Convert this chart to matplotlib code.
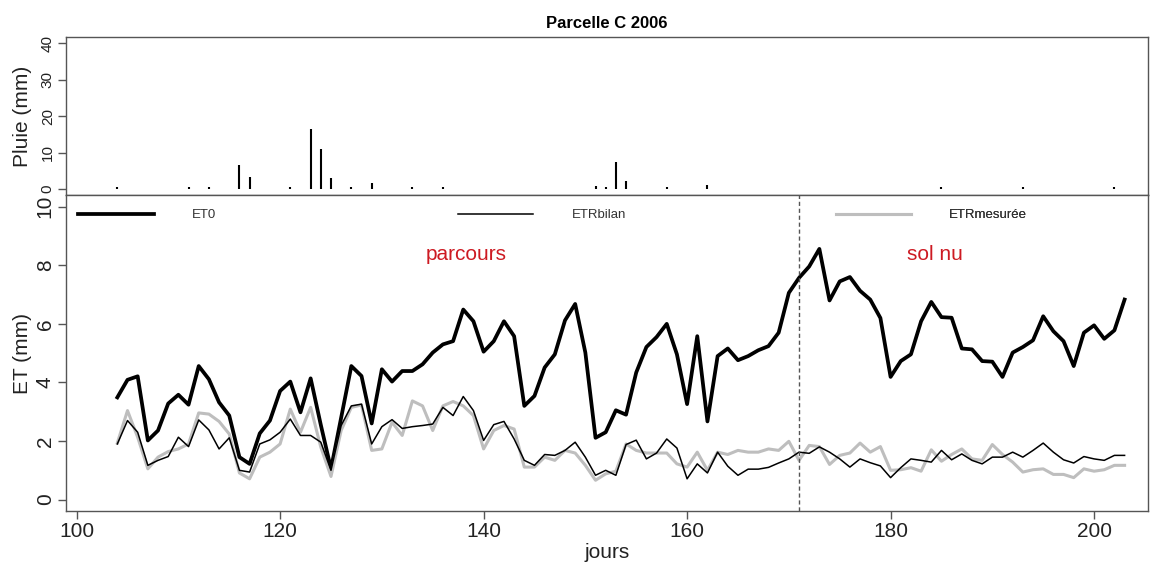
#%% Packages
import numpy as np
import matplotlib.pyplot as plt

#%% Data
jours = np.arange(104, 204)

et0 = [3.49, 4.09, 4.21, 2.02, 2.36, 3.28, 3.58, 3.24, 4.56, 4.11,
       3.32, 2.87, 1.45, 1.22, 2.26, 2.70, 3.71, 4.03, 2.98, 4.14,
       2.55, 1.05, 2.80, 4.56, 4.22, 2.60, 4.45, 4.03, 4.39, 4.39,
       4.62, 5.02, 5.30, 5.41, 6.49, 6.09, 5.05, 5.41, 6.09, 5.58,
       3.20, 3.54, 4.51, 4.96, 6.12, 6.68, 5.02, 2.11, 2.30, 3.05,
       2.90, 4.34, 5.21, 5.55, 6.00, 4.96, 3.26, 5.58, 2.67, 4.90,
       5.16, 4.76, 4.90, 5.10, 5.24, 5.70, 7.06, 7.57, 7.96, 8.56,
       6.80, 7.45, 7.60, 7.13, 6.83, 6.20, 4.19, 4.73, 4.96, 6.09,
       6.75, 6.23, 6.21, 5.16, 5.13, 4.73, 4.71, 4.19, 5.02, 5.21,
       5.44, 6.26, 5.75, 5.41, 4.56, 5.70, 5.95, 5.49, 5.78, 6.83]

etr_bilan = [1.90, 2.70, 2.30, 1.17, 1.34, 1.47, 2.13, 1.81, 2.72, 2.38,
             1.73, 2.11, 1.00, 0.94, 1.90, 2.04, 2.30, 2.75, 2.19, 2.19,
             1.96, 1.00, 2.53, 3.20, 3.26, 1.90, 2.49, 2.73, 2.43, 2.49,
             2.53, 2.58, 3.15, 2.87, 3.52, 3.04, 2.02, 2.56, 2.67, 2.07,
             1.34, 1.17, 1.54, 1.51, 1.68, 1.96, 1.45, 0.83, 1.00, 0.83,
             1.88, 2.03, 1.39, 1.59, 2.07, 1.76, 0.71, 1.22, 0.91, 1.62,
             1.14, 0.83, 1.04, 1.04, 1.10, 1.25, 1.39, 1.62, 1.58, 1.80,
             1.62, 1.39, 1.11, 1.39, 1.26, 1.15, 0.75, 1.09, 1.39, 1.34,
             1.28, 1.68, 1.36, 1.56, 1.34, 1.22, 1.45, 1.45, 1.62, 1.45,
             1.68, 1.93, 1.62, 1.36, 1.25, 1.47, 1.39, 1.34, 1.51, 1.51]

etr_mesuree = [1.93, 3.04, 2.13, 1.05, 1.45, 1.64, 1.73, 1.90, 2.96, 2.92,
               2.67, 2.24, 0.91, 0.71, 1.45, 1.62, 1.90, 3.09, 2.30, 3.15,
               1.79, 0.79, 2.36, 3.15, 3.23, 1.68, 1.73, 2.64, 2.19, 3.37,
               3.20, 2.36, 3.20, 3.35, 3.20, 2.87, 1.73, 2.36, 2.53, 2.41,
               1.11, 1.11, 1.45, 1.34, 1.68, 1.59, 1.17, 0.66, 0.88, 0.97,
               1.90, 1.68, 1.59, 1.59, 1.59, 1.22, 1.11, 1.62, 1.00, 1.62,
               1.54, 1.68, 1.62, 1.62, 1.73, 1.68, 1.99, 1.34, 1.85, 1.81,
               1.20, 1.51, 1.59, 1.93, 1.62, 1.81, 1.00, 1.02, 1.09, 0.97,
               1.70, 1.31, 1.54, 1.73, 1.39, 1.34, 1.88, 1.54, 1.28, 0.94,
               1.02, 1.05, 0.86, 0.86, 0.75, 1.05, 0.97, 1.02, 1.17, 1.17]

pluie_jours = [104, 111, 113, 116, 117, 121, 123, 124, 125, 127, 129,
               133, 136, 151, 152, 153, 154, 158, 162, 185, 193, 202]
pluie_mm = [0.5, 0.5, 0.5, 6.6, 3.3, 0.5, 16.5, 11.0, 3.0, 0.5, 1.6,
            0.5, 0.5, 1.0, 0.5, 7.5, 2.3, 0.5, 1.2, 0.5, 0.5, 0.5]

jour_coupure = 171

#%% Figure
plt.rcParams['font.family'] = ['Liberation Sans', 'DejaVu Sans']
fig = plt.figure(figsize=(11.61, 5.63), dpi=100)
ax1 = fig.add_axes([0.0568, 0.6536, 0.9320, 0.2801])
ax2 = fig.add_axes([0.0568, 0.0918, 0.9320, 0.5618])

txt = '#222222'
for ax in (ax1, ax2):
    ax.set_xlim(98.95, 205.3)
    for s in ax.spines.values():
        s.set_color('#555555')
        s.set_linewidth(1.0)
    ax.tick_params(direction='out', length=6, width=1, color='#555555',
                   labelcolor=txt)

#%% Rain panel
ax1.vlines(pluie_jours, 0, pluie_mm, color='black', lw=1.5)
ax1.set_ylim(-1.6, 41.6)
ax1.set_yticks([0, 10, 20, 30, 40])
ax1.tick_params(axis='y', labelsize=11, labelrotation=90, pad=2)
for lab in ax1.get_yticklabels():
    lab.set_va('center')
ax1.tick_params(axis='x', bottom=False, labelbottom=False)
ax1.set_ylabel('Pluie (mm)', fontsize=15, color=txt)
ax1.yaxis.set_label_coords(-0.031, 0.5)
ax1.set_title('Parcelle C 2006', fontsize=12, fontweight='bold', pad=7)

#%% ET panel
ax2.plot(jours, et0, color='black', lw=2.7, label='ET0')
ax2.plot(jours, etr_mesuree, color='#bebebe', lw=2.2, label='ETRmesurée')
ax2.plot(jours, etr_bilan, color='black', lw=1.1, label='ETRbilan')
ax2.axvline(jour_coupure, color='#555555', lw=1, ls=(0, (3, 2)))
ax2.set_ylim(-0.4, 10.4)
ax2.set_yticks([0, 2, 4, 6, 8, 10])
ax2.set_xticks([100, 120, 140, 160, 180, 200])
ax2.tick_params(axis='both', labelsize=15, pad=2)
ax2.tick_params(axis='y', labelrotation=90)
for lab in ax2.get_yticklabels():
    lab.set_va('center')
ax2.set_ylabel('ET (mm)', fontsize=15, color=txt)
ax2.yaxis.set_label_coords(-0.031, 0.5)
ax2.set_xlabel('jours', fontsize=15, color=txt, labelpad=1)

ax2.text(138.3, 8.37, 'parcours', color='#cd1a22', fontsize=15,
         ha='center', va='center')
ax2.text(184.4, 8.37, 'sol nu', color='#cd1a22', fontsize=15,
         ha='center', va='center')

# legend: three entries spread along the top
handles, labels = ax2.get_legend_handles_labels()
order = [0, 2, 1]
xpos = [0.003, 0.354, 0.703]
for i, xp in zip(order, xpos):
    leg = ax2.legend([handles[i]], [labels[i]], loc='upper left',
                     bbox_to_anchor=(xp, 0.985), frameon=False,
                     fontsize=9.5, handlelength=5.7, handletextpad=2.9,
                     borderaxespad=0.3)
    for t in leg.get_texts():
        t.set_color('#333333')
    ax2.add_artist(leg)

fig.savefig('out.png', dpi=100)
